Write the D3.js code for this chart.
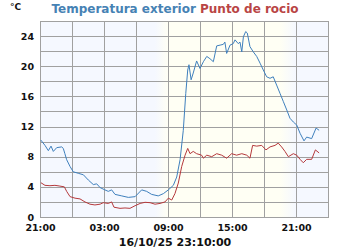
<!DOCTYPE html>
<html>
<head>
<meta charset="utf-8">
<script src="https://cdn.jsdelivr.net/npm/d3@7"></script>
<style>
  body { margin: 0; background: #fff; }
  text { font-family: "DejaVu Sans", sans-serif; font-weight: bold; }
</style>
</head>
<body>
<div id="chart"></div>
<script>
// outdoor temperature, 21:00 day 1 -> 23:10 day 2
var tempTimes = ["21:05","21:28","21:47","22:02","22:15","22:34","23:02","23:11","23:20","23:30","23:49",
    "00:07","00:35","01:04","01:32","02:00","02:19","02:38","03:05","03:24","03:43","04:02","04:40","05:17","05:55",
    "06:32","07:00","07:28","08:05","08:34","09:02","09:30","09:49","10:08","10:26","10:40","10:51","10:58","11:10",
    "11:22","11:41","12:00","12:19","12:38","12:56","13:15","13:34","13:53","14:11","14:20","14:30","14:49","15:07",
    "15:17","15:35","15:45","15:55","16:04","16:17","16:26","16:41","17:00","17:19","17:38","17:56","18:15","18:34",
    "18:52","19:11","19:30","19:49","20:08","20:26","20:45","21:04","21:23","21:45","22:00","22:28","22:53","23:10"];
var tempValues = [10.2,9.5,8.8,9.4,8.7,9.2,9.3,9.1,8.4,7.6,6.7,
    6.0,5.8,5.6,4.9,4.3,4.4,3.9,3.6,3.4,3.6,3.0,2.8,2.6,2.7,
    3.6,3.4,3.0,2.8,3.1,3.6,4.2,5.3,7.6,11.5,16.4,19.5,20.2,18.2,
    19.1,20.7,19.7,20.6,21.3,21.0,20.6,22.7,22.8,22.9,23.2,21.7,22.8,23.0,
    23.5,23.0,23.2,21.9,23.9,24.6,24.4,22.6,21.9,21.3,20.4,19.5,18.6,18.4,
    18.6,17.5,16.4,15.3,14.2,13.1,12.6,12.2,11.1,10.1,10.6,10.4,11.8,11.5];

// dew point
var dewTimes = ["21:05","21:28","21:56","22:24","22:52","23:17","23:30","23:49","00:17","00:45","01:13","01:41",
    "02:09","02:38","02:56","03:24","03:43","03:56","04:30","04:58","05:26","05:55","06:23","06:51","07:19","07:47",
    "08:15","08:43","09:02","09:21","09:39","09:58","10:17","10:36","10:51","11:04","11:22","11:41","12:09","12:19",
    "12:38","13:06","13:34","14:02","14:30","14:58","15:26","15:55","16:23","16:41","16:56","17:19","17:47","18:11",
    "18:34","19:02","19:20","19:39","19:58","20:17","20:45","21:04","21:23","21:41","22:00","22:28","22:49","23:10"];
var dewValues = [4.55,4.2,4.15,4.2,4.1,4.0,3.4,2.7,2.5,2.4,2.0,1.7,
    1.6,1.7,1.9,1.8,2.0,1.3,1.15,1.2,1.15,1.5,1.8,1.95,1.9,1.7,
    1.8,2.0,2.5,2.25,3.1,4.5,6.7,8.2,9.1,8.4,8.7,8.4,8.2,7.8,
    8.2,8.0,8.4,8.2,7.8,8.4,8.2,8.4,8.2,7.8,9.5,9.4,9.5,8.9,
    9.3,9.5,9.8,9.3,8.7,8.0,8.4,8.2,7.65,7.2,7.65,7.65,8.9,8.5];

var yTickValues = [0, 4, 8, 12, 16, 20, 24];
var xTickLabels = ["21:00", "03:00", "09:00", "15:00", "21:00"];
var stamp = "16/10/25 23:10:00";
var unitLabel = "°C";
var seriesNames = ["Temperatura exterior", "Punto de rocio"];
// night -> day -> night background stops
var lightTimes = ["07:47", "09:00", "19:30", "21:00"];

var startDate = new Date(2025, 9, 15, 21, 0);
var endDate = new Date(2025, 9, 17, 0, 0);

// turn "HH:MM" strings into dates, rolling the day over after midnight
function toDates(list, fromDay) {
    var day = fromDay, prev = -1;
    return list.map(function(s) {
        var p = s.split(":"), hh = +p[0], mm = +p[1];
        if (prev >= 0 && hh < prev) day++;
        prev = hh;
        return new Date(2025, 9, day, hh, mm);
    });
}

function init() {
    var W = 350, H = 250;
    var margin = { top: 21, right: 22, bottom: 33, left: 40 },
        w = W - margin.left - margin.right,
        h = H - margin.top - margin.bottom;

    var blue = "#3f80bd", red = "#b5393c", grid = "#a0a0a0";

    var tDates = toDates(tempTimes, 15);
    var dDates = toDates(dewTimes, 15);
    var tempData = tDates.map((d, i) => ({ t: d, v: tempValues[i] }));
    var dewData = dDates.map((d, i) => ({ t: d, v: dewValues[i] }));
    var lightDates = toDates(lightTimes, 16);
    var xTickDates = toDates(xTickLabels, 15);

    var svg = d3.select("#chart").append("svg")
        .attr("width", W).attr("height", H);

    var g = svg.append("g")
        .attr("transform", `translate(${margin.left},${margin.top})`);

    var x = d3.scaleTime().domain([startDate, endDate]).range([0, w]);
    var y = d3.scaleLinear().domain([0, 26]).range([h, 0]);

    // day / night background
    var grad = svg.append("defs").append("linearGradient")
        .attr("id", "sky").attr("gradientUnits", "userSpaceOnUse")
        .attr("x1", 0).attr("x2", w).attr("y1", 0).attr("y2", 0);
    var night = "#f5f8ff", day = "#fffff4";
    var stops = [[lightDates[0], night], [lightDates[1], day], [lightDates[2], day], [lightDates[3], night]];
    stops.forEach(s => {
        grad.append("stop").attr("offset", x(s[0]) / w).attr("stop-color", s[1]);
    });
    g.append("rect")
        .attr("width", w).attr("height", h)
        .attr("fill", "url(#sky)");

    // grid
    g.append("g")
        .attr("transform", `translate(0,${h})`)
        .call(d3.axisBottom(x).ticks(d3.timeHour.every(3)).tickSize(-h).tickFormat(""))
        .call(a => a.select(".domain").remove())
        .selectAll("line").attr("stroke", grid).attr("shape-rendering", "crispEdges");
    g.append("g")
        .call(d3.axisLeft(y).tickValues(d3.range(0, 27, 2)).tickSize(-w).tickFormat(""))
        .call(a => a.select(".domain").remove())
        .selectAll("line").attr("stroke", grid).attr("shape-rendering", "crispEdges");
    g.append("rect")
        .attr("width", w).attr("height", h)
        .attr("fill", "none").attr("stroke", grid)
        .attr("shape-rendering", "crispEdges");

    // axis labels
    var xLab = g.append("g")
        .attr("transform", `translate(0,${h})`)
        .call(d3.axisBottom(x).tickValues(xTickDates).tickSize(0).tickPadding(7)
            .tickFormat((d, i) => xTickLabels[i]));
    xLab.select(".domain").remove();
    xLab.selectAll("text").attr("font-size", 9.5).attr("fill", "#111")
        .style("font-family", "DejaVu Sans").style("font-weight", "bold");

    var yLab = g.append("g")
        .call(d3.axisLeft(y).tickValues(yTickValues).tickSize(0).tickPadding(6));
    yLab.select(".domain").remove();
    yLab.selectAll("text").attr("font-size", 9.5).attr("fill", "#111")
        .style("font-family", "DejaVu Sans").style("font-weight", "bold");

    // series
    var line = d3.line().x(d => x(d.t)).y(d => y(d.v));
    g.append("path").datum(dewData)
        .attr("d", line).attr("fill", "none")
        .attr("stroke", red).attr("stroke-width", 1);
    g.append("path").datum(tempData)
        .attr("d", line).attr("fill", "none")
        .attr("stroke", blue).attr("stroke-width", 1);

    // titles
    svg.append("text")
        .attr("x", 10).attr("y", 9.5)
        .attr("font-size", 9).attr("fill", "#111")
        .text(unitLabel);

    var title = svg.append("text")
        .attr("x", 175).attr("y", 12.5)
        .attr("text-anchor", "middle")
        .attr("font-size", 12);
    title.append("tspan").attr("fill", "#4682b4").text(seriesNames[0] + " ");
    title.append("tspan").attr("fill", "#b94545").text(seriesNames[1]);

    svg.append("text")
        .attr("x", 175).attr("y", 246)
        .attr("text-anchor", "middle")
        .attr("font-size", 11).attr("fill", "#111")
        .text(stamp);
}

window.onload = init;
</script>
</body>
</html>
